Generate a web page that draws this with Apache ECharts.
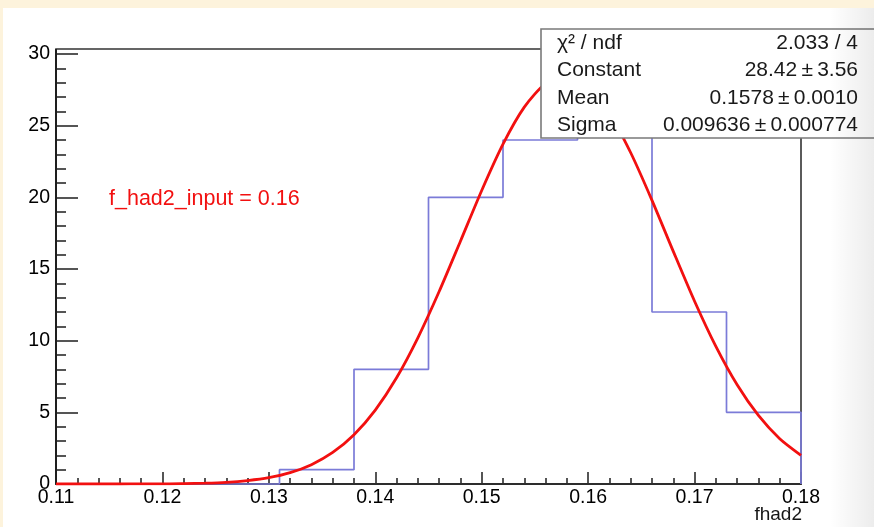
<!DOCTYPE html>
<html><head><meta charset="utf-8">
<script src="https://cdn.jsdelivr.net/npm/echarts@6.0.0/dist/echarts.min.js"></script>
<style>html,body{margin:0;padding:0;background:#fff}#c{width:874px;height:527px}</style>
</head><body><div id="c"></div>
<script>
// ---- data ----
const binEdges = [0.110, 0.117, 0.124, 0.131, 0.138, 0.145, 0.152, 0.159, 0.166, 0.173, 0.180];
const binCounts = [0, 0, 0, 1, 8, 20, 24, 29, 12, 5];
const fitX = [0.110, 0.112, 0.114, 0.116, 0.118, 0.120, 0.122, 0.124, 0.126, 0.128,
              0.130, 0.132, 0.134, 0.136, 0.138, 0.140, 0.142, 0.144, 0.146, 0.148,
              0.150, 0.152, 0.154, 0.156, 0.158, 0.160, 0.162, 0.164, 0.166, 0.168,
              0.170, 0.172, 0.174, 0.176, 0.178, 0.180];
const fitY = [0.00, 0.00, 0.00, 0.00, 0.01, 0.01, 0.03, 0.06, 0.12, 0.24,
              0.44, 0.79, 1.35, 2.20, 3.44, 5.16, 7.41, 10.20, 13.43, 16.94,
              20.48, 23.71, 26.29, 27.93, 28.42, 27.69, 25.85, 23.11, 19.79, 16.23,
              12.75, 9.60, 6.92, 4.78, 3.16, 2.00];
const yTickLabels = ['0', '5', '10', '15', '20', '25', '30'];
const xTickLabels = ['0.11', '0.12', '0.13', '0.14', '0.15', '0.16', '0.17', '0.18'];
const statLabels = ['\u03c7\u00b2 / ndf', 'Constant', 'Mean', 'Sigma'];
const statValues = ['2.033 / 4', '28.42\u2009\u00b1\u20093.56', '0.1578\u2009\u00b1\u20090.0010', '0.009636\u2009\u00b1\u20090.000774'];
const annotation = 'f_had2_input = 0.16';
const xAxisTitle = 'fhad2';

const FONT = "'Liberation Sans', Arial, Helvetica, sans-serif";

// histogram outline built from the bins
const histLine = [[binEdges[0], 0]];
for (let i = 0; i < binCounts.length; i++) {
  histLine.push([binEdges[i], binCounts[i]]);
  histLine.push([binEdges[i + 1], binCounts[i]]);
}
histLine.push([binEdges[binEdges.length - 1], 0]);
const fitLine = fitX.map((x, i) => [x, fitY[i]]);

const chart = echarts.init(document.getElementById('c'), null, { renderer: 'canvas' });
const axisColor = '#1e1e1e';
chart.setOption({
  animation: false,
  backgroundColor: '#ffffff',
  grid: { left: 56, right: 73, top: 54, bottom: 43, containLabel: false },
  xAxis: {
    type: 'value', min: 0.11, max: 0.18, interval: 0.01,
    axisLine: { show: true, lineStyle: { color: axisColor, width: 2 } },
    axisTick: { show: true, inside: true, length: 12, lineStyle: { color: axisColor, width: 1.5 } },
    minorTick: { show: true, splitNumber: 5, length: 6, lineStyle: { color: axisColor, width: 1.5 } },
    splitLine: { show: false },
    axisLabel: {
      margin: 4, color: '#000', fontSize: 19.5, fontFamily: FONT,
      formatter: v => { const s = v.toFixed(2); return xTickLabels.includes(s) ? s : ''; }
    }
  },
  yAxis: {
    type: 'value', min: 0, max: 30, interval: 5,
    axisLine: { show: true, lineStyle: { color: axisColor, width: 2 } },
    axisTick: { show: true, inside: true, length: 22, lineStyle: { color: axisColor, width: 1.5 } },
    minorTick: { show: true, splitNumber: 5, length: 10, lineStyle: { color: axisColor, width: 1.5 } },
    splitLine: { show: false },
    axisLabel: {
      margin: 6, color: '#000', fontSize: 19.5, fontFamily: FONT,
      formatter: v => { const s = String(Math.round(v)); return yTickLabels.includes(s) && Math.abs(v - Math.round(v)) < 1e-6 ? s : ''; }
    }
  },
  series: [
    {
      name: 'hist', type: 'line', data: histLine, showSymbol: false, symbol: 'none',
      lineStyle: { color: '#7b7bd8', width: 1.7 }, z: 3, clip: false
    },
    {
      name: 'fit', type: 'line', data: fitLine, showSymbol: false, symbol: 'none',
      smooth: 0.25,
      lineStyle: { color: '#f21010', width: 2.8 }, z: 4
    }
  ]
});

// frame (extends slightly above the top tick, as in ROOT)
const pTL = chart.convertToPixel({ gridIndex: 0 }, [0.11, 30.35]);
const pBR = chart.convertToPixel({ gridIndex: 0 }, [0.18, 0]);

const boxL = 541, boxT = 29, rowH = 27.4;
const statEls = [];
statLabels.forEach((t, i) => {
  statEls.push({ type: 'text', z: 102, style: { text: t, x: 557, y: boxT + 14 + i * rowH, fill: '#1a1a1a', font: '21px ' + FONT, textAlign: 'left', textVerticalAlign: 'middle' } });
  statEls.push({ type: 'text', z: 102, style: { text: statValues[i], x: 858, y: boxT + 14 + i * rowH, fill: '#1a1a1a', font: '21px ' + FONT, textAlign: 'right', textVerticalAlign: 'middle' } });
});

chart.setOption({
  graphic: [
    // frame
    { type: 'rect', z: 1, silent: true, shape: { x: pTL[0], y: pTL[1], width: pBR[0] - pTL[0], height: pBR[1] - pTL[1] },
      style: { fill: 'none', stroke: '#333', lineWidth: 1.6 } },
    // left axis extension to frame top
    { type: 'line', z: 1, silent: true, shape: { x1: pTL[0], y1: pTL[1], x2: pTL[0], y2: pBR[1] }, style: { stroke: axisColor, lineWidth: 2 } },
    // annotation
    { type: 'text', z: 50, style: { text: annotation, x: 109, y: 199, fill: '#f21010', font: '21.5px ' + FONT, textAlign: 'left', textVerticalAlign: 'middle' } },
    // x axis title
    { type: 'text', z: 50, style: { text: xAxisTitle, x: pBR[0] + 1, y: 515, fill: '#161616', font: '19px ' + FONT, textAlign: 'right', textVerticalAlign: 'middle' } },
    // stat box
    { type: 'rect', z: 100, shape: { x: boxL, y: boxT, width: 400, height: 109 }, style: { fill: '#ffffff', stroke: '#7a7a7a', lineWidth: 1.6 } },
    ...statEls,
    // right-side vignette
    { type: 'rect', z: 200, silent: true, shape: { x: 830, y: 0, width: 44, height: 527 },
      style: { fill: new echarts.graphic.LinearGradient(0, 0, 1, 0, [{ offset: 0, color: 'rgba(0,0,0,0)' }, { offset: 1, color: 'rgba(0,0,0,0.075)' }]) } },
    // cream border
    { type: 'rect', z: 210, silent: true, shape: { x: 0, y: 0, width: 874, height: 8 }, style: { fill: '#fdf3dc' } },
    { type: 'rect', z: 210, silent: true, shape: { x: 0, y: 0, width: 3, height: 527 }, style: { fill: '#fdf3dc' } }
  ]
});
</script>
</body></html>
